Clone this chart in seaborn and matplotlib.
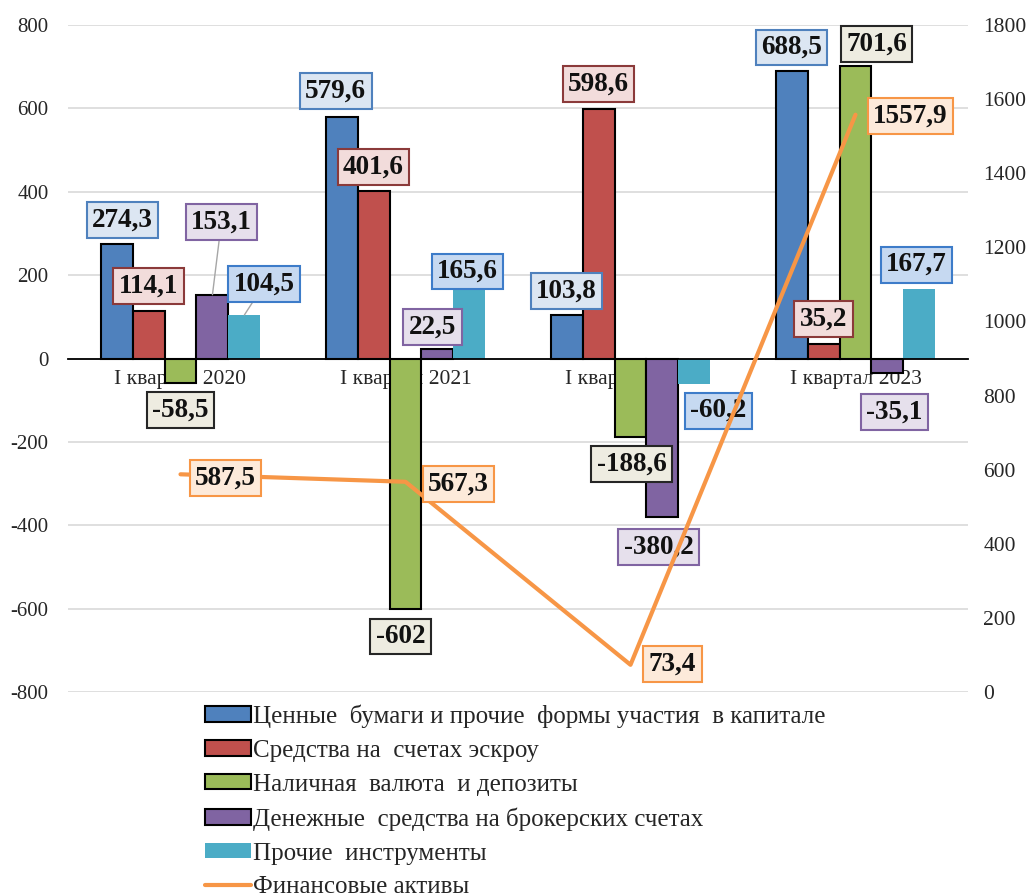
import numpy as np
import pandas as pd
import matplotlib
matplotlib.use('Agg')
import matplotlib.pyplot as plt
import seaborn as sns
from matplotlib.patches import Patch
from matplotlib.lines import Line2D
from matplotlib.font_manager import FontProperties

# ---- data ----
quarters = ['I квартал 2020', 'I квартал 2021', 'I квартал 2022', 'I квартал 2023']
series_names = ['Ценные  бумаги и прочие  формы участия  в капитале',
                'Средства на  счетах эскроу',
                'Наличная  валюта  и депозиты',
                'Денежные  средства на брокерских счетах',
                'Прочие  инструменты']
securities = [274.3, 579.6, 103.8, 688.5]
escrow = [114.1, 401.6, 598.6, 35.2]
cash_deposits = [-58.5, -602.0, -188.6, 701.6]
brokerage = [153.1, 22.5, -380.2, -35.1]
other_instr = [104.5, 165.6, -60.2, 167.7]
line_name = 'Финансовые активы'
fin_assets = [587.5, 567.3, 73.4, 1557.9]

# ---- styles ----
bar_colors = ['#4F81BD', '#C0504D', '#9BBB59', '#8064A2', '#4BACC6']
line_color = '#F79646'
box_face = ['#DCE6F2', '#F2DCDB', '#EEECE1', '#E6E0EC', '#C6D9F1']
box_edge = ['#4F81BD', '#8B3A3A', '#262626', '#8064A2', '#3D7CC9']
serif = ['Liberation Serif', 'DejaVu Serif']
tick_col = '#262626'

# label offsets in pixels (dx right, dy down) from bar end, per series / quarter
bar_offsets = [
    [(6, -24), (-6, -26), (0, -24), (0, -24)],
    [(0, -25), (0, -24), (0, -25), (0, -25)],
    [(0, 27), (-5, 27), (1, 27), (21, -22)],
    [(9, -73), (-5, -22), (-4, 30), (7, 39)],
    [(20, -31), (-2, -18), (24, 27), (-3, -24)],
]
leaders = {(3, 0), (4, 0)}
line_offsets = [(45, 4), (53, 2), (42, -1), (55, 1)]


def fmt(v):
    if float(v).is_integer():
        return str(int(v))
    return f'{v:.1f}'.replace('.', ',')


values = [securities, escrow, cash_deposits, brokerage, other_instr]
df = pd.DataFrame({
    'quarter': quarters * len(series_names),
    'series': [s for s in series_names for _ in quarters],
    'value': [v for vals in values for v in vals],
})

sns.set_style('white')
plt.rcParams['font.family'] = serif
plt.rcParams['axes.unicode_minus'] = False

fig = plt.figure(figsize=(10.32, 8.96), dpi=100)
ax = fig.add_axes([68/1032, 1-692/896, 900/1032, 667/896])

sns.barplot(data=df, x='quarter', y='value', hue='series', order=quarters,
            hue_order=series_names, palette=bar_colors, width=0.71, gap=0,
            saturation=1, edgecolor='black', linewidth=1.5, ax=ax, legend=False,
            errorbar=None)
for rect in ax.containers[4]:
    rect.set_edgecolor('none')

ax.set_ylim(-800, 800)
ax.set_yticks(np.arange(-800, 801, 200))
ax.set_xlim(-0.5, 3.5)
ax.set_xlabel('')
ax.set_ylabel('')
ax.set_axisbelow(True)
ax.grid(axis='y', color='#d9d9d9', lw=1.2)
ax.grid(axis='x', visible=False)
for s in ['left', 'right', 'top']:
    ax.spines[s].set_visible(False)
ax.spines['bottom'].set_position(('data', 0))
ax.spines['bottom'].set_color('black')
ax.spines['bottom'].set_linewidth(1.3)
ax.tick_params(axis='x', length=0, pad=8, labelsize=15.5, labelcolor=tick_col)
ax.tick_params(axis='y', length=0, pad=14, labelsize=15, labelcolor=tick_col)

# bar value labels
for j, cont in enumerate(ax.containers):
    for i, rect in enumerate(cont):
        xc = rect.get_x() + rect.get_width() / 2
        yend = rect.get_y() + rect.get_height()
        dx, dy = bar_offsets[j][i]
        arrow = None
        if (j, i) in leaders:
            arrow = dict(arrowstyle='-', color='#a6a6a6', lw=1, shrinkA=0, shrinkB=0)
        ax.annotate(fmt(values[j][i]), xy=(xc, yend), xytext=(dx, -dy),
                    textcoords='offset pixels', ha='center', va='center',
                    fontsize=19.5, fontweight='bold', color='#111111', zorder=6,
                    arrowprops=arrow,
                    bbox=dict(boxstyle='square,pad=0.2', fc=box_face[j],
                              ec=box_edge[j], lw=1.5))

# line on secondary axis
ax2 = ax.twinx()
positions = np.arange(len(quarters))
sns.lineplot(x=positions, y=fin_assets, ax=ax2, color=line_color, lw=3, zorder=5)
ax2.set_ylim(0, 1800)
ax2.set_yticks(np.arange(0, 1801, 200))
ax2.set_xlim(-0.5, 3.5)
ax2.grid(False)
for s in ['left', 'right', 'top', 'bottom']:
    ax2.spines[s].set_visible(False)
ax2.tick_params(axis='y', length=0, pad=11, labelsize=15.5, labelcolor=tick_col)
for lab in ax2.get_yticklabels():
    lab.set_ha('left')

for i, v in enumerate(fin_assets):
    dx, dy = line_offsets[i]
    ax2.annotate(fmt(v), xy=(positions[i], v), xytext=(dx, -dy),
                 textcoords='offset pixels', ha='center', va='center',
                 fontsize=19.5, fontweight='bold', color='#111111', zorder=7,
                 bbox=dict(boxstyle='square,pad=0.2', fc='#FDEADA',
                           ec=line_color, lw=1.5))

# legend
handles = [Patch(fc=bar_colors[k], ec='black', lw=1.5) for k in range(4)]
handles.append(Patch(fc=bar_colors[4], ec='none'))
handles.append(Line2D([], [], color=line_color, lw=3))
labels = series_names + [line_name]
leg_font = FontProperties(family='Liberation Serif', size=18)
fig.legend(handles, labels, loc='upper left', bbox_to_anchor=(192/1032, 1-692/896),
           frameon=False, prop=leg_font, handlelength=1.85, handleheight=0.58,
           handletextpad=0.1, labelspacing=0.47, borderpad=0)

fig.savefig('out.png', dpi=100)
